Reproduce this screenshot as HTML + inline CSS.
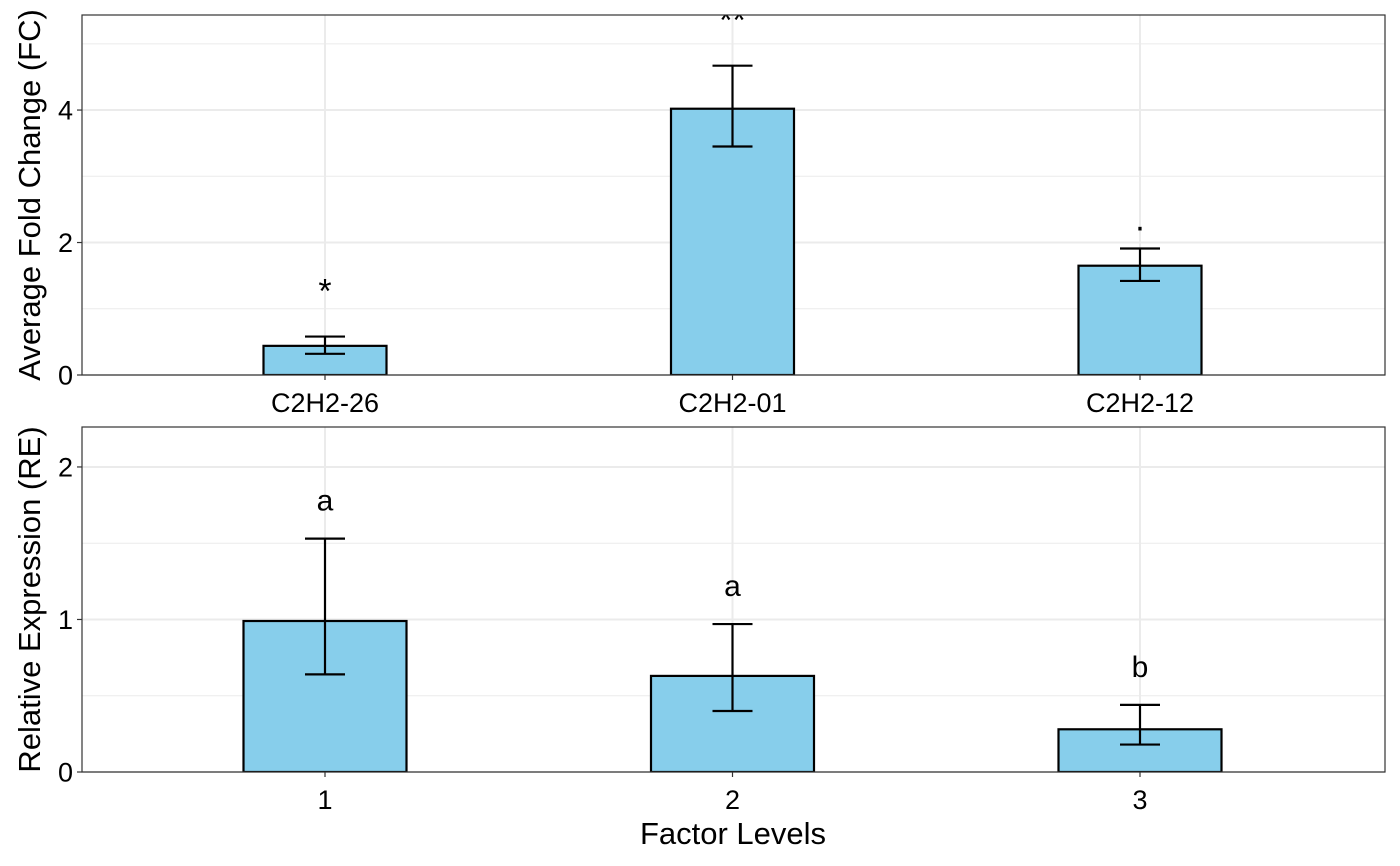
<!DOCTYPE html>
<html><head><meta charset="utf-8"><style>
html,body{margin:0;padding:0;background:#fff;}
svg{display:block;font-family:"Liberation Sans",Arial,sans-serif;}
</style></head><body>
<svg id="c" width="1400" height="866" viewBox="0 0 1400 866">
<defs>
<clipPath id="clipTop"><rect x="82" y="15" width="1303" height="360"/></clipPath>
<clipPath id="clipBot"><rect x="82" y="427" width="1303" height="345"/></clipPath>
</defs>
</svg>
<script>
const topCats = ["C2H2-26","C2H2-01","C2H2-12"];
const topVals = [0.44, 4.02, 1.65];
const topLo = [0.32, 3.45, 1.42];
const topHi = [0.58, 4.67, 1.91];
const topSig = ["*","**","."];
const topTicks = [0,2,4];
const topMinor = [1,3,5];

const botCats = ["1","2","3"];
const botVals = [0.99, 0.63, 0.28];
const botLo = [0.64, 0.40, 0.18];
const botHi = [1.53, 0.97, 0.44];
const botSig = ["a","a","b"];
const botTicks = [0,1,2];
const botMinor = [0.5,1.5];

const NS="http://www.w3.org/2000/svg";
const svg=document.getElementById('c');
function mk(tag,attrs,parent){const e=document.createElementNS(NS,tag);for(const k in attrs)e.setAttribute(k,attrs[k]);(parent||svg).appendChild(e);return e;}

function panel(o){
  const L=82,R=1385,T=o.top,B=o.bottom;
  const xs=i=>325+i*407.5;
  const ys=v=>B-(v/o.max)*(B-T);
  const g=mk('g',{});
  
  
  o.minor.forEach(v=>{const l=mk('line',{x1:L,x2:R,y1:ys(v),y2:ys(v),stroke:'#ebebeb','stroke-width':1},g);
    });
  o.ticks.forEach(v=>{const l=mk('line',{x1:L,x2:R,y1:ys(v),y2:ys(v),stroke:'#ebebeb','stroke-width':2},g);
    });
  o.cats.forEach((c,i)=>{const l=mk('line',{x1:xs(i),x2:xs(i),y1:T,y2:B,stroke:'#ebebeb','stroke-width':2},g);
    });
  const cg=mk('g',{'clip-path':'url(#'+o.clip+')'},g);
  o.vals.forEach((v,i)=>{
    const r=mk('rect',{x:xs(i)-o.bw/2,y:ys(v),width:o.bw,height:B-ys(v),fill:'#87ceeb',stroke:'#000','stroke-width':2.2},cg);
    
    
    const eb=mk('path',{d:`M${xs(i)-20},${ys(o.hi[i])}H${xs(i)+20}M${xs(i)},${ys(o.hi[i])}V${ys(o.lo[i])}M${xs(i)-20},${ys(o.lo[i])}H${xs(i)+20}`,stroke:'#000','stroke-width':2.2,fill:'none'},cg);
    
    
    const off = o.sig[i]==='.' ? 18 : o.sigOff;
    const t=mk('text',{x:xs(i),y:ys(o.hi[i])-off,'text-anchor':'middle','font-size':o.sigSize,fill:'#000'},cg);
    t.textContent=o.sig[i];
    
    
  });
  const fr=mk('rect',{x:L,y:T,width:R-L,height:B-T,fill:'none',stroke:'#333','stroke-width':1.2},g);
  
  o.ticks.forEach(v=>{
    mk('line',{x1:L-5,x2:L,y1:ys(v),y2:ys(v),stroke:'#333','stroke-width':1.2},g);
    const t=mk('text',{x:L-9,y:ys(v)+9.5,'text-anchor':'end','font-size':27,fill:'#000'},g);
    t.textContent=v;
    
    
  });
  o.cats.forEach((c,i)=>{
    mk('line',{x1:xs(i),x2:xs(i),y1:B,y2:B+5,stroke:'#333','stroke-width':1.2},g);
    const t=mk('text',{x:xs(i),y:B+37,'text-anchor':'middle','font-size':27,fill:'#000'},g);
    t.textContent=c;
    
    
  });
  const yt=mk('text',{x:0,y:0,transform:`translate(40,${(T+B)/2}) rotate(-90)`,'text-anchor':'middle','font-size':31,fill:'#000'},g);
  yt.textContent=o.ytitle;
  
  
}
panel({name:'fold-change-panel',top:15,bottom:375,max:5.435,cats:topCats,vals:topVals,lo:topLo,hi:topHi,sig:topSig,ticks:topTicks,minor:topMinor,bw:123,clip:'clipTop',sigOff:34,sigSize:34,ytitle:'Average Fold Change (FC)'});
panel({name:'relative-expression-panel',top:427,bottom:772,max:2.262,cats:botCats,vals:botVals,lo:botLo,hi:botHi,sig:botSig,ticks:botTicks,minor:botMinor,bw:163,clip:'clipBot',sigOff:28,sigSize:30,ytitle:'Relative Expression (RE)'});
const xt=mk('text',{x:733,y:844,'text-anchor':'middle','font-size':31,fill:'#000'});
xt.textContent='Factor Levels';


</script>
</body></html>
